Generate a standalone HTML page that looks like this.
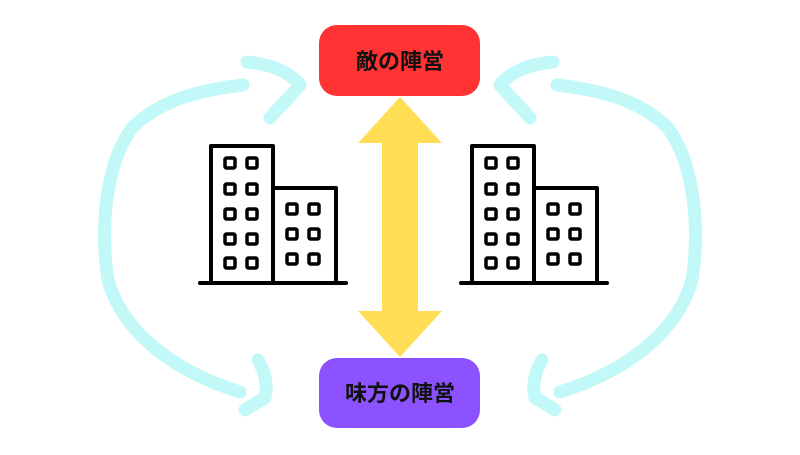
<!DOCTYPE html>
<html><head><meta charset="utf-8"><style>
html,body{margin:0;padding:0;background:#fff;}
body{width:800px;height:450px;overflow:hidden;}
text{font-family:"Liberation Sans","Noto Sans CJK JP",sans-serif;font-weight:bold;}
</style></head><body>
<svg width="800" height="450" viewBox="0 0 800 450" xmlns="http://www.w3.org/2000/svg">
<defs>
<g id="bld" fill="none" stroke="#000" stroke-width="4" stroke-linejoin="round">
<rect x="211" y="146" width="62" height="137"/>
<rect x="273" y="188" width="63" height="95"/>
<line x1="200" y1="283" x2="346" y2="283" stroke-linecap="round"/>
<g stroke-width="3.5">
<rect x="225" y="158" width="10" height="10" rx="1.5"/><rect x="247" y="158" width="10" height="10" rx="1.5"/>
<rect x="225" y="184" width="10" height="10" rx="1.5"/><rect x="247" y="184" width="10" height="10" rx="1.5"/>
<rect x="225" y="209" width="10" height="10" rx="1.5"/><rect x="247" y="209" width="10" height="10" rx="1.5"/>
<rect x="225" y="234" width="10" height="10" rx="1.5"/><rect x="247" y="234" width="10" height="10" rx="1.5"/>
<rect x="225" y="258" width="10" height="10" rx="1.5"/><rect x="247" y="258" width="10" height="10" rx="1.5"/>
<rect x="287" y="204" width="10" height="10" rx="1.5"/><rect x="309" y="204" width="10" height="10" rx="1.5"/>
<rect x="287" y="229" width="10" height="10" rx="1.5"/><rect x="309" y="229" width="10" height="10" rx="1.5"/>
<rect x="287" y="254" width="10" height="10" rx="1.5"/><rect x="309" y="254" width="10" height="10" rx="1.5"/>
</g>
</g>
<g id="arc" fill="none" stroke="#c2f8f8" stroke-width="13" stroke-linecap="round" stroke-linejoin="round">
<path d="M243,85 C200,90 160,100 132,128 C105,165 100,230 108,280 C122,330 170,370 240,392"/>
<path d="M247,62 C270,64 290,72 300,85 C290,97 278,108 270,118"/>
<path d="M258,360 C265,372 268,385 265,398 C258,402 250,406 245,410"/>
</g>
</defs>
<use href="#arc"/>
<use href="#arc" transform="translate(800,0) scale(-1,1)"/>
<use href="#bld"/>
<use href="#bld" transform="translate(261,0)"/>
<polygon points="400,97 442,143 418,143 418,311 442,311 400,357 358,311 382,311 382,143 358,143" fill="#ffdd55"/>
<rect x="319" y="25" width="161" height="71" rx="18" fill="#ff3333"/>
<text x="400" y="69" font-size="22" text-anchor="middle" fill="#111">敵の陣営</text>
<rect x="319" y="358" width="161" height="70" rx="18" fill="#8c52ff"/>
<text x="400" y="401" font-size="22" text-anchor="middle" fill="#111">味方の陣営</text>
</svg>
</body></html>
